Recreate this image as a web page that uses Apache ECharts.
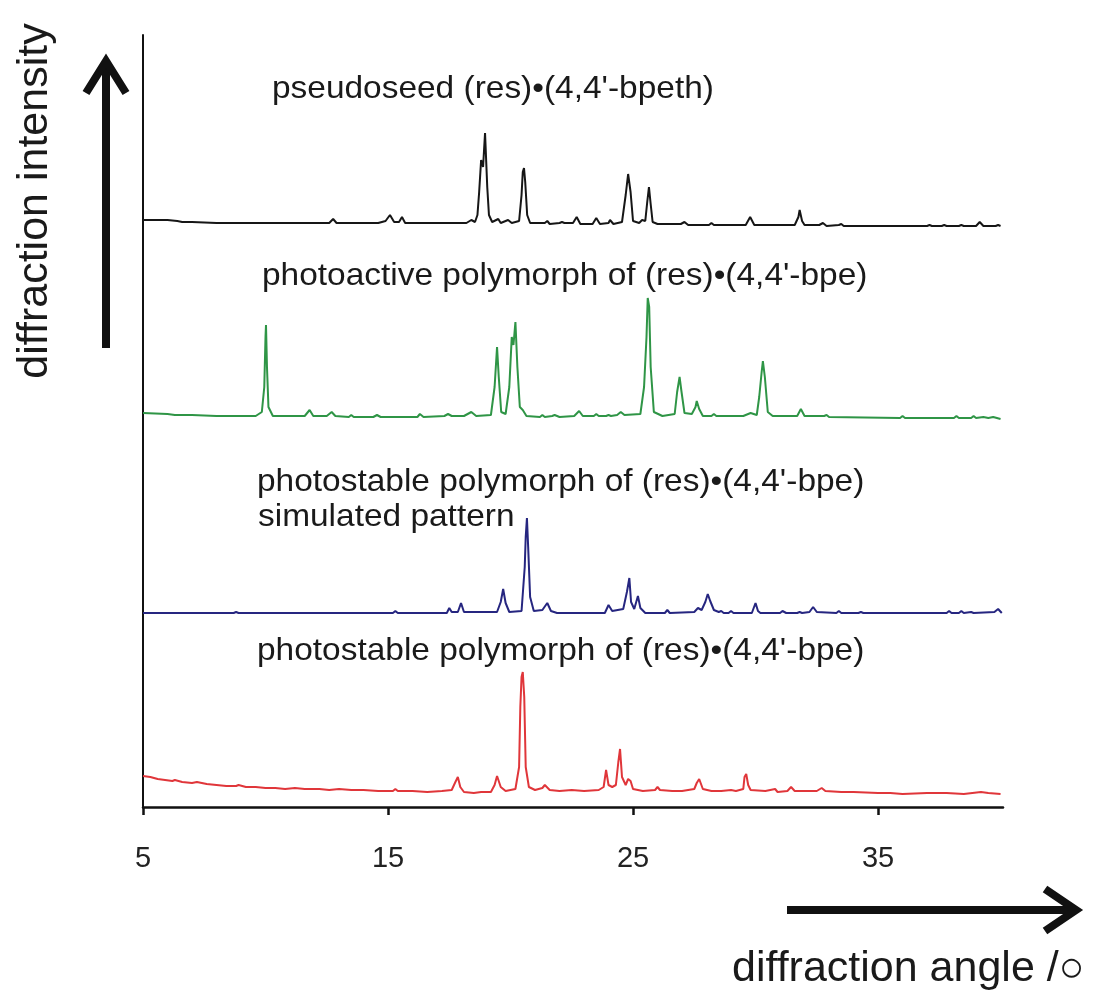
<!DOCTYPE html>
<html>
<head>
<meta charset="utf-8">
<script src="https://cdn.jsdelivr.net/npm/echarts@6/dist/echarts.min.js"></script>
<style>html,body{margin:0;padding:0;background:#fff;}#c{width:1099px;height:998px;}</style>
</head>
<body>
<div id="c"></div>
<script>
// x tick labels (diffraction angle, degrees)
const xTicks = [5, 15, 25, 35];
// trace titles
const titles = [
  "pseudoseed (res)\u2022(4,4'-bpeth)",
  "photoactive polymorph of (res)\u2022(4,4'-bpe)",
  "photostable polymorph of (res)\u2022(4,4'-bpe)",
  "simulated pattern",
  "photostable polymorph of (res)\u2022(4,4'-bpe)"
];
// offset-stacked intensity traces: [angle, stacked intensity]
const pseudoseed = [
  [5.0,587],[6.0,587],[6.4,586],[6.6,585],[7.0,585],[8.0,584],[10.0,584],[12.0,584],[12.6,584],[12.76,588],[12.9,584],
  [14.6,584],[14.9,586],[15.08,592],[15.25,585],[15.45,585],[15.57,590],[15.7,584],[18.2,584],[18.4,587],[18.55,585],
  [18.65,592],[18.72,615],[18.8,647],[18.88,640],[18.96,674],[19.05,620],[19.12,592],[19.25,585],[19.5,588],[19.6,584],
  [19.9,587],[20.05,584],[20.35,586],[20.45,612],[20.5,635],[20.55,639],[20.6,625],[20.68,592],[20.8,584],[21.4,584],
  [21.5,586],[21.6,583],[22.0,584],[22.1,585],[22.2,584],[22.55,584],[22.7,590],[22.85,583],[23.35,583],[23.5,589],
  [23.65,583],[24.0,584],[24.06,587],[24.2,583],[24.55,585],[24.7,612],[24.8,633],[24.9,615],[25.0,586],[25.25,584],
  [25.37,587],[25.5,586],[25.58,605],[25.65,620],[25.72,603],[25.8,585],[26.0,583],[26.95,583],[27.1,585],[27.25,582],
  [28.1,582],[28.2,584],[28.3,582],[29.6,582],[29.78,590],[29.95,582],[31.6,582],[31.75,590],[31.8,597],[31.9,586],
  [32.0,582],[32.6,582],[32.75,584],[32.9,581],[33.4,582],[33.5,583],[33.6,581],[35.0,581],[37.0,581],[37.1,582],
  [37.2,581],[37.6,581],[37.7,582],[37.8,581],[38.3,581],[38.4,582],[38.5,581],[39.0,581],[39.15,585],[39.3,581],
  [39.8,581],[39.9,582],[40.0,581]
];
const photoactive = [
  [5.0,394],[6.0,393],[6.3,392],[7.0,392],[8.0,391],[9.6,391],[9.85,395],[9.95,420],[10.0,470],[10.02,482],[10.06,440],
  [10.12,400],[10.3,391],[11.6,391],[11.8,397],[11.95,391],[12.5,391],[12.7,395],[12.85,391],[13.4,390],[13.5,392],
  [13.6,390],[14.4,390],[14.55,392],[14.7,390],[16.2,390],[16.3,393],[16.45,390],[17.3,391],[17.45,393],[17.6,391],
  [18.1,391],[18.4,395],[18.6,391],[19.2,392],[19.35,420],[19.45,460],[19.52,430],[19.62,395],[19.8,393],[19.95,420],
  [20.05,470],[20.12,462],[20.2,485],[20.28,440],[20.38,400],[20.5,397],[20.65,391],[21.2,390],[21.3,392],[21.4,390],
  [21.7,391],[21.8,392],[22.0,390],[22.6,391],[22.8,396],[22.95,391],[23.4,391],[23.5,393],[23.6,391],[23.9,391],
  [24.0,392],[24.1,391],[24.35,392],[24.5,395],[24.65,392],[25.3,393],[25.45,420],[25.55,470],[25.6,509],[25.66,500],
  [25.72,440],[25.85,395],[26.2,391],[26.7,393],[26.8,415],[26.9,430],[26.98,415],[27.1,394],[27.4,393],[27.55,400],
  [27.6,406],[27.7,398],[27.85,391],[28.2,391],[28.3,393],[28.4,391],[29.5,391],[29.8,394],[30.05,392],[30.15,410],
  [30.25,435],[30.3,446],[30.38,430],[30.5,395],[30.7,391],[31.7,391],[31.85,398],[32.0,391],[32.8,391],[32.9,392],
  [33.0,390],[35.9,389],[36.0,391],[36.1,389],[38.1,389],[38.2,391],[38.3,389],[38.8,389],[38.9,391],[39.0,389],
  [39.3,390],[39.5,389],[39.7,390],[40.0,388]
];
const simulated = [
  [5.0,194],[8.7,194],[8.8,195],[8.9,194],[15.2,194],[15.3,196],[15.4,194],[17.4,194],[17.5,199],[17.6,195],[17.85,195],
  [17.98,204],[18.1,195],[19.45,195],[19.6,205],[19.7,218],[19.8,204],[19.95,195],[20.45,196],[20.58,240],[20.62,270],
  [20.67,289],[20.72,260],[20.8,210],[20.95,196],[21.3,197],[21.5,204],[21.65,196],[21.9,194],[23.85,194],[24.0,202],
  [24.15,196],[24.6,198],[24.75,215],[24.85,229],[24.92,205],[25.05,198],[25.2,211],[25.3,199],[25.5,194],[26.3,194],
  [26.4,197],[26.5,194],[27.5,195],[27.65,199],[27.8,197],[27.95,205],[28.05,213],[28.15,206],[28.3,197],[28.5,195],
  [28.6,196],[28.7,194],[28.9,194],[29.0,196],[29.1,194],[29.85,194],[30.0,204],[30.1,196],[30.2,194],[31.0,194],
  [31.1,196],[31.25,194],[31.7,194],[31.8,195],[31.9,194],[32.2,195],[32.35,200],[32.5,195],[33.3,194],[33.4,196],
  [33.5,194],[34.2,194],[34.3,195],[34.4,194],[37.8,194],[37.9,196],[38.0,194],[38.3,194],[38.4,196],[38.5,194],
  [38.8,195],[38.9,194],[39.75,195],[39.9,198],[40.05,194]
];
const photostable = [
  [5.0,31],[5.3,30],[5.6,28],[5.9,27],[6.2,26],[6.3,27],[6.6,25],[7.0,24],[7.2,25],[7.6,23],[8.0,22],[8.4,21],[8.8,21],
  [8.9,22],[9.2,20],[9.6,20],[10.0,19],[10.4,19],[10.8,18],[11.2,19],[11.6,18],[12.2,18],[12.6,17],[13.0,18],[13.5,17],
  [14.0,17],[14.6,16],[15.2,16],[15.3,18],[15.4,16],[16.0,16],[16.6,15],[17.2,16],[17.6,17],[17.75,25],[17.85,30],
  [17.95,20],[18.1,15],[18.5,14],[18.8,15],[19.2,15],[19.35,22],[19.45,31],[19.6,20],[19.8,16],[20.2,18],[20.35,40],
  [20.4,100],[20.45,130],[20.5,135],[20.56,110],[20.62,40],[20.75,20],[21.0,17],[21.3,19],[21.4,22],[21.6,17],[22.0,16],
  [22.5,17],[23.0,16],[23.6,17],[23.8,20],[23.9,37],[24.0,22],[24.15,20],[24.3,22],[24.4,45],[24.47,58],[24.55,30],
  [24.7,22],[24.8,28],[24.9,26],[25.0,18],[25.4,16],[25.9,17],[26.0,20],[26.1,17],[26.6,16],[27.0,16],[27.5,18],
  [27.6,24],[27.7,28],[27.85,18],[28.2,16],[28.6,16],[29.0,17],[29.2,16],[29.5,18],[29.55,30],[29.62,33],[29.7,22],
  [29.8,17],[30.4,16],[30.8,18],[30.9,15],[31.3,16],[31.45,20],[31.6,16],[32.5,16],[32.7,19],[32.85,16],[33.5,15],
  [34.0,15],[35.0,14],[35.5,14],[36.0,13],[37.0,14],[37.4,14],[37.8,14],[38.5,13],[39.2,15],[39.5,14],[40.0,13]
];

const chart = echarts.init(document.getElementById('c'));
const FONT = "'Liberation Sans', Arial, sans-serif";
function lineSeries(data, color){
  return {type:'line', data:data, showSymbol:false, symbol:'none', smooth:false,
    lineStyle:{color:color, width:2}, silent:true, animation:false};
}
function label(text, x, y){
  return {type:'text', x:x, y:y, scaleX:1.045, scaleY:1,
    style:{text:text, font:'32px '+FONT, fill:'#1a1a1a', align:'left', verticalAlign:'middle'}};
}
chart.setOption({
  animation:false,
  backgroundColor:'#ffffff',
  grid:{left:143, right:96, top:35, bottom:191, containLabel:false},
  xAxis:{type:'value', min:5, max:40.1,
    axisLine:{show:true, onZero:false, lineStyle:{color:'#111', width:2.5}},
    axisTick:{show:true, inside:false, length:8, customValues:xTicks, lineStyle:{color:'#111', width:2.5}},
    axisLabel:{show:true, customValues:xTicks, margin:37, fontSize:29, color:'#222', fontFamily:FONT},
    splitLine:{show:false}},
  yAxis:{type:'value', min:0, max:772,
    axisLine:{show:true, onZero:false, lineStyle:{color:'#111', width:2}},
    axisTick:{show:false}, axisLabel:{show:false}, splitLine:{show:false}},
  series:[
    lineSeries(pseudoseed,'#161616'),
    lineSeries(photoactive,'#2f9546'),
    lineSeries(simulated,'#262680'),
    lineSeries(photostable,'#e0363a')
  ],
  graphic:[
    label(titles[0], 272, 89),
    label(titles[1], 262, 276),
    label(titles[2], 257, 482),
    label(titles[3], 258, 517),
    label(titles[4], 257, 651),
    {type:'text', x:35, y:201, rotation:Math.PI/2, style:{text:'diffraction intensity', font:'43px '+FONT, fill:'#1a1a1a', align:'center', verticalAlign:'middle'}},
    {type:'text', x:732, y:969, style:{text:'diffraction angle /\u25CB', font:'43px '+FONT, fill:'#1a1a1a', align:'left', verticalAlign:'middle'}},
    {type:'line', shape:{x1:106, y1:348, x2:106, y2:62}, style:{stroke:'#111', lineWidth:8}},
    {type:'polyline', shape:{points:[[86,93],[106,61],[126,93]]}, style:{stroke:'#111', lineWidth:8, fill:null, lineJoin:'miter'}},
    {type:'line', shape:{x1:787, y1:910, x2:1074, y2:910}, style:{stroke:'#111', lineWidth:8}},
    {type:'polyline', shape:{points:[[1045,889],[1076,910],[1045,931]]}, style:{stroke:'#111', lineWidth:8, fill:null, lineJoin:'miter'}}
  ]
});
</script>
</body>
</html>
